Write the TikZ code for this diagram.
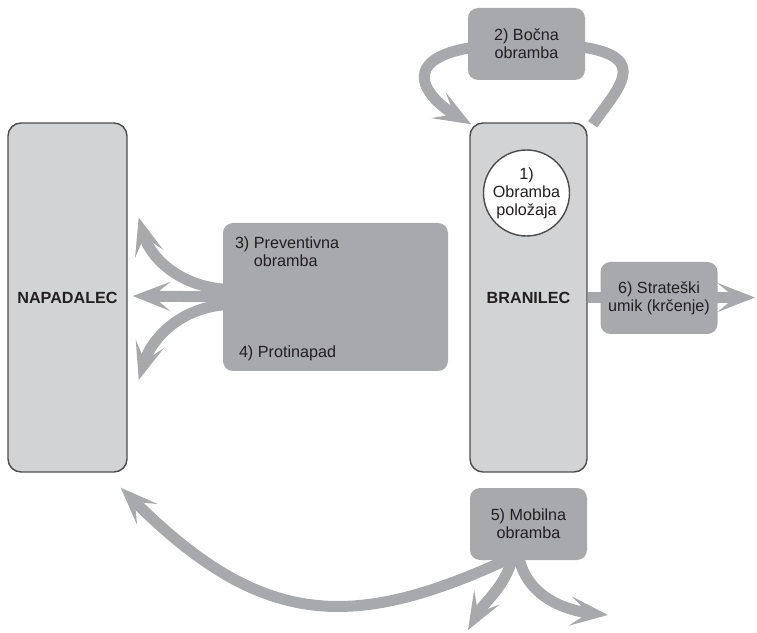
\documentclass[tikz,border=0pt]{standalone}
\usepackage{fontspec}
\setmainfont{Liberation Sans}
\usetikzlibrary{calc,arrows.meta,backgrounds}

\definecolor{boxlight}{HTML}{D1D3D4}
\definecolor{boxdark}{HTML}{A7A9AC}
\definecolor{frame}{HTML}{4D4D4F}
\definecolor{ink}{HTML}{231F20}
\def\labelsize{\fontsize{9.2}{10.3}\selectfont}

\begin{document}
\begin{tikzpicture}[
		side/.style={draw=frame, line width=0.8pt, fill=boxlight, rounded corners=0.26cm, minimum width=2.38cm, minimum height=6.98cm, font=\labelsize\bfseries, text=ink},
		tag/.style={fill=boxdark, rounded corners=0.2cm, minimum width=2.34cm, minimum height=1.44cm, align=center, font=\labelsize, text=ink},
		plain/.style={inner sep=0, font=\labelsize, text=ink},
		move/.style={line width=0.22cm, color=boxdark, -{Stealth[length=0.75cm, width=0.58cm, inset=0.35cm]}}
	]
	%%%%% START %%%%%
	\useasboundingbox (0, 0) rectangle (15.14, 12.66);
	
	% attacker and defender
	\node[side] (napad) at (1.35, 6.71) {NAPADALEC};
	\node[side, minimum width=2.34cm] (bran) at (10.57, 6.71) {BRANILEC};
	\node[circle, draw=frame, line width=0.8pt, fill=white, minimum size=1.72cm, inner sep=0, align=center, font=\labelsize, text=ink] (pol) at (10.53, 8.80) {1)\\Obramba\\položaja};
	
	% the dark tags
	\node[tag] (bocna) at (10.53, 11.78) {2) Bočna\\obramba};
	\node[tag, minimum width=4.5cm, minimum height=2.96cm] (prot) at (6.71, 6.72) {};
	\node[plain, anchor=north west, align=left] (prev txt) at ($(prot.north west)+(0.24,-0.28)$) {3) Preventivna\\\phantom{3) }obramba};
	\node[plain, anchor=base west] (prot txt) at ($(prot.south west)+(0.32,0.28)$) {4) Protinapad};
	\node[tag] (umik) at (13.18, 6.70) {6) Strateški\\umik (krčenje)};
	\node[tag] (mob) at (10.57, 2.18) {5) Mobilna\\obramba};
	
	\coordinate (umik tip) at (15.1, 6.71);
	\coordinate (mob left) at (9.36, 0.06);
	\coordinate (mob right) at (12.16, 0.36);
	
	\begin{scope}[on background layer]
		% loop over 2)
		\draw[move] ($(bran.north east)+(0.1,-0.04)$) .. controls +(55:1.0) and +(0:2.8) .. (bocna.center) .. controls +(180:2.8) and +(150:1.2) .. ($(bran.north west)+(0.04,-0.04)$);
		
		% 3) and 4)
		\draw[move] ($(prot.west)+(0.2,0.15)$) to[out=180, in=-74] ($(napad.east)+(0.22,1.6)$);
		\draw[move] ($(prot.west)+(0.2,0)$) -- ($(napad.east)+(0.1,0.03)$);
		\draw[move] ($(prot.west)+(0.2,-0.15)$) to[out=180, in=73] ($(napad.east)+(0.22,-1.65)$);
		
		% 6)
		\draw[move] (bran.east) -- (umik tip);
		
		% 5)
		\draw[move] ($(mob.south)+(-0.33,0.06)$) .. controls +(205:3.5) and +(-45:4) .. ($(napad.south east)+(-0.14,-0.3)$);
		\draw[move] ($(mob.south)+(-0.3,0.1)$) to[out=255, in=60] (mob left);
		\draw[move] ($(mob.south)+(-0.2,0.1)$) to[out=-80, in=174] (mob right);
	\end{scope}
	
	%%%%% END %%%%%
\end{tikzpicture}
\end{document}
